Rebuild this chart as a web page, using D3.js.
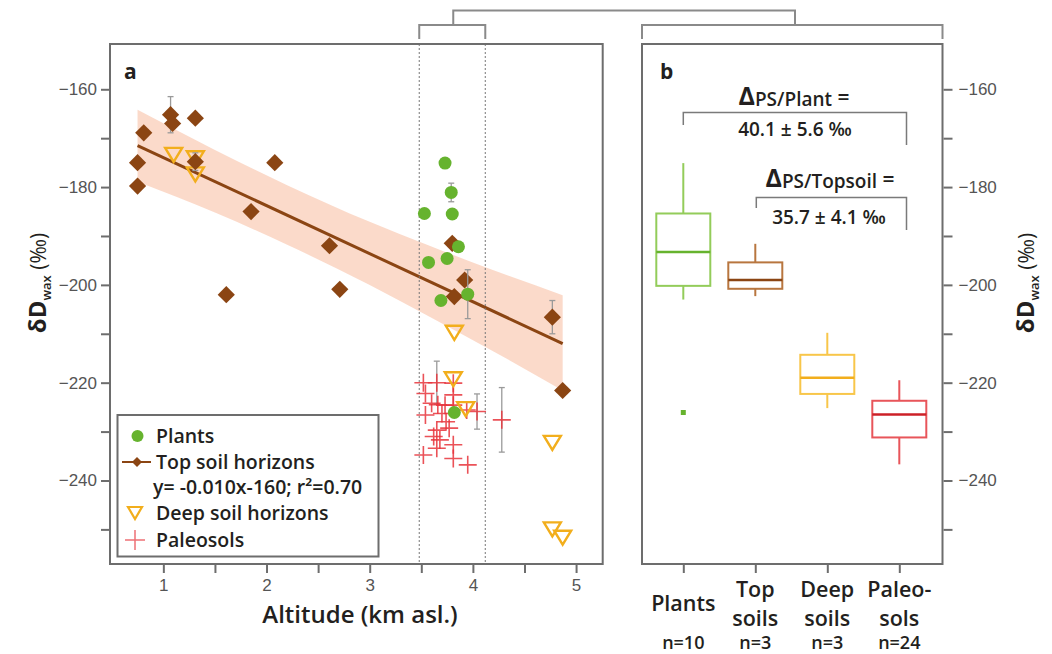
<!DOCTYPE html>
<html>
<head>
<meta charset="utf-8">
<script src="https://cdn.jsdelivr.net/npm/d3@7"></script>
<style>
  body { margin: 0; background: #fff; }
  text { font-family: "Open Sans", sans-serif; }
</style>
</head>
<body>
<div id="chart"></div>
<script>
// data
// panel a : altitude (km) , dD (permil)
let plants = [[3.73,-175.1],[3.79,-181.1],[3.53,-185.4],[3.80,-185.5],[3.86,-192.2],
              [3.57,-195.4],[3.75,-194.6],[3.95,-201.9],[3.69,-203.2],[3.82,-226.1]]
let plantErr = [0,1.9,0,0,0,0,0,5,0,0]

let topsoils = [[1.07,-165.2],[1.09,-167.0],[1.31,-165.9],[0.81,-168.9],[0.75,-175.0],[0.75,-179.8],
                [2.08,-175.0],[1.85,-185.0],[2.61,-192.0],[1.31,-174.8],[1.61,-202.0],[2.71,-200.9],
                [3.80,-191.5],[3.92,-199.0],[3.82,-202.4],[4.77,-206.6],[4.87,-221.6]]
let topsoilErr = [3.7,0,0,0,0,0,0,0,0,1.8,0,0,0,0,0,3.4,0]

let deepsoils = [[1.10,-173.2],[1.31,-173.9],[1.31,-177.2],[3.82,-209.6],[3.81,-219.1],
                 [3.93,-225.2],[4.77,-232.1],[4.77,-249.8],[4.87,-251.5]]

let paleosols = [[3.52,-220.0],[3.54,-222.2],[3.65,-220.0],[3.81,-220.1],[3.81,-222.5],[3.81,-224.6],
                 [3.73,-224.6],[3.54,-226.6],[3.70,-226.3],[4.04,-225.9],[3.94,-225.6],[3.74,-228.0],
                 [3.65,-229.7],[3.77,-229.3],[3.68,-231.7],[3.81,-232.7],[3.65,-233.4],[3.52,-234.8],
                 [3.81,-235.5],[3.95,-236.8],[4.28,-227.6],[3.60,-224.2],[3.62,-231.0],[3.66,-224.5]]
let paleoErr = [0,0,4.4,0,0,0,0,0,0,3.6,0,0,0,0,0,0,0,0,0,0,6.6,0,0,0]

// regression + confidence band
let fitX = [0.75, 4.87]
let fitY = [-171.5, -212.0]
let bandX = [0.75, 1.5, 2.2, 3.0, 3.58, 4.2, 4.87]
let bandLow = [-178.9, -185.2, -191.8, -200.0, -206.5, -213.6, -221.6]
let bandHigh = [-164.2, -172.4, -179.6, -187.1, -192.0, -197.0, -202.1]

// panel b : box plots
let groups = [["Plants"], ["Top", "soils"], ["Deep", "soils"], ["Paleo-", "sols"]]
let groupN = ["n=10", "n=3", "n=3", "n=24"]
let boxLow = [-203.0, -202.3, -225.2, -236.7]
let boxQ1 = [-200.2, -200.8, -222.3, -231.2]
let boxMed = [-193.3, -199.0, -219.0, -226.5]
let boxQ3 = [-185.4, -195.4, -214.3, -223.7]
let boxHigh = [-175.1, -191.6, -209.8, -219.5]
let boxOutliers = [[0, -226.1]]

// ticks
let altTicks = [1, 1.5, 2, 2.5, 3, 3.5, 4, 4.5, 5]
let dDTicks = [-160, -170, -180, -190, -200, -210, -220, -230, -240, -250]
let plateauLimits = [3.48, 4.12]

// colours
let cPlant = '#66b32e', cPlantBox = '#93cc5a'
let cTop = '#8b4513', cTopBox = '#b8763f'
let cDeep = '#f2ae1c', cDeepBox = '#f8c64a'
let cPaleo = '#e8343c', cPaleoBox = '#e8555a'
let boxStroke = [cPlantBox, cTopBox, cDeepBox, cPaleoBox]
let boxMedColor = [cPlant, cTop, cDeep, '#cc2027']
let frameColor = '#6d6d6d'
let tickText = '#555'

let svgWidth = 1052
let svgHeight = 654

let svg = d3.select('#chart')
    .append('svg')
    .attr('width', svgWidth)
    .attr('height', svgHeight)
    .style('background', '#fff')

// panel frames
let pa = {left: 110, right: 602.7, top: 44, bottom: 564}
let pb = {left: 642, right: 942.5, top: 44, bottom: 564}

// scales
let xScale = d3.scaleLinear().domain([0.483, 5.258]).range([pa.left, pa.right])
let yScale = d3.scaleLinear().domain([-150.74, -257.08]).range([pa.top, pa.bottom])
let catScale = d3.scalePoint().domain(d3.range(groups.length)).range([683.3, 899.3])

// ---------- panel a ----------
let gA = svg.append('g')

// confidence band
let band = bandX.map((x, i) => ({x: x, lo: bandLow[i], hi: bandHigh[i]}))
gA.append('path')
    .datum(band)
    .attr('d', d3.area()
        .x(d => xScale(d.x))
        .y0(d => yScale(d.lo))
        .y1(d => yScale(d.hi))
        .curve(d3.curveMonotoneX))
    .attr('fill', '#fbd6c4')
    .attr('opacity', 0.9)

// regression line
gA.append('path')
    .datum(fitX.map((x, i) => [x, fitY[i]]))
    .attr('d', d3.line().x(d => xScale(d[0])).y(d => yScale(d[1])))
    .attr('stroke', cTop)
    .attr('stroke-width', 3)
    .attr('fill', 'none')

// plateau dotted lines
gA.selectAll('.plateau')
    .data(plateauLimits)
    .join('line')
    .attr('x1', d => xScale(d)).attr('x2', d => xScale(d))
    .attr('y1', pa.top).attr('y2', pa.bottom)
    .attr('stroke', '#777')
    .attr('stroke-width', 1)
    .attr('stroke-dasharray', '2,2')

// grey error bars helper
function errBars(g, data, err) {
    let d2 = data.map((d, i) => ({x: d[0], y: d[1], e: err[i]})).filter(d => d.e > 0)
    let eg = g.append('g').attr('stroke', '#9a9a9a').attr('stroke-width', 1.3)
    eg.selectAll('line.v').data(d2).join('line')
        .attr('x1', d => xScale(d.x)).attr('x2', d => xScale(d.x))
        .attr('y1', d => yScale(d.y - d.e)).attr('y2', d => yScale(d.y + d.e))
    eg.selectAll('line.t').data(d2).join('line')
        .attr('x1', d => xScale(d.x) - 3).attr('x2', d => xScale(d.x) + 3)
        .attr('y1', d => yScale(d.y + d.e)).attr('y2', d => yScale(d.y + d.e))
    eg.selectAll('line.b').data(d2).join('line')
        .attr('x1', d => xScale(d.x) - 3).attr('x2', d => xScale(d.x) + 3)
        .attr('y1', d => yScale(d.y - d.e)).attr('y2', d => yScale(d.y - d.e))
}

// paleosols (crosses)
errBars(gA, paleosols, paleoErr)
let crossPath = 'M-9,0H9M0,-9V9'
gA.selectAll('.paleo')
    .data(paleosols)
    .join('path')
    .attr('transform', d => `translate(${xScale(d[0])},${yScale(d[1])})`)
    .attr('d', crossPath)
    .attr('stroke', cPaleo)
    .attr('stroke-width', 1.6)
    .attr('opacity', 0.85)

// deep soils (open triangles)
let triPath = 'M-8.5,-6L8.5,-6L0,8Z'
gA.selectAll('.deep')
    .data(deepsoils)
    .join('path')
    .attr('transform', d => `translate(${xScale(d[0])},${yScale(d[1])})`)
    .attr('d', triPath)
    .attr('fill', 'none')
    .attr('stroke', cDeep)
    .attr('stroke-width', 2.4)

// top soils (diamonds)
errBars(gA, topsoils, topsoilErr)
let diamond = d3.symbol().type(d3.symbolSquare).size(148)
gA.selectAll('.top')
    .data(topsoils)
    .join('path')
    .attr('transform', d => `translate(${xScale(d[0])},${yScale(d[1])}) rotate(45)`)
    .attr('d', diamond)
    .attr('fill', cTop)

// plants (circles)
errBars(gA, plants, plantErr)
gA.selectAll('.plant')
    .data(plants)
    .join('circle')
    .attr('cx', d => xScale(d[0]))
    .attr('cy', d => yScale(d[1]))
    .attr('r', 6.5)
    .attr('fill', cPlant)

// frame a
gA.append('rect')
    .attr('x', pa.left).attr('y', pa.top)
    .attr('width', pa.right - pa.left).attr('height', pa.bottom - pa.top)
    .attr('fill', 'none').attr('stroke', frameColor).attr('stroke-width', 2)

// axes
let fmt = d => (Math.round(d) % 20 === 0 ? d3.format('d')(d) : '')
let yAxis = d3.axisLeft(yScale).tickValues(dDTicks).tickSize(8).tickPadding(4).tickFormat(fmt)
let xAxis = d3.axisBottom(xScale).tickValues(altTicks).tickSize(8).tickPadding(6)
    .tickFormat(d => (d % 1 === 0 ? d : ''))

function styleAxis(g) {
    g.select('.domain').remove()
    g.selectAll('line').attr('stroke', frameColor).attr('stroke-width', 2)
    g.selectAll('text').attr('fill', tickText)
        .style('font-family', '"Liberation Sans", Arial, sans-serif').style('font-size', '17px')
}

svg.append('g').attr('transform', `translate(${pa.left - 1},0)`).call(yAxis).call(styleAxis)
svg.append('g').attr('transform', `translate(0,${pa.bottom + 1})`).call(xAxis).call(styleAxis)

svg.append('text')
    .attr('x', 360).attr('y', 623)
    .attr('text-anchor', 'middle')
    .attr('fill', '#231f20')
    .style('font-size', '24px').style('font-weight', 600)
    .text('Altitude (km asl.)')

// y titles
function yTitle(x) {
    let t = svg.append('text')
        .attr('transform', `translate(${x},283) rotate(-90)`)
        .attr('text-anchor', 'middle')
        .attr('fill', '#231f20')
    t.append('tspan').text('δD').style('font-size', '24px').style('font-weight', 700)
    t.append('tspan').text('wax').style('font-size', '13px').style('font-weight', 600).attr('dy', 5)
    t.append('tspan').text(' (‰)').style('font-size', '21px').style('font-weight', 500).attr('dy', -5)
}
yTitle(46)
yTitle(1034)

svg.append('text').attr('x', 124).attr('y', 79)
    .style('font-size', '21px').style('font-weight', 700).attr('fill', '#231f20').text('a')

// legend
let lg = svg.append('g')
lg.append('rect')
    .attr('x', 117.5).attr('y', 415).attr('width', 261).attr('height', 141.5)
    .attr('fill', '#fff').attr('stroke', frameColor).attr('stroke-width', 2)
let legendRows = [
    {label: 'Plants', y: 436},
    {label: 'Top soil horizons', y: 462},
    {label: 'y= -0.010x-160; r²=0.70', y: 487, indent: true},
    {label: 'Deep soil horizons', y: 513},
    {label: 'Paleosols', y: 540}
]
lg.selectAll('text')
    .data(legendRows)
    .join('text')
    .attr('x', d => (d.indent ? 153 : 156))
    .attr('y', d => d.y)
    .attr('dy', '0.35em')
    .attr('fill', '#231f20')
    .style('font-size', '19.5px').style('font-weight', 600)
    .text(d => d.label)
lg.append('circle').attr('cx', 137.5).attr('cy', 436).attr('r', 6).attr('fill', cPlant)
lg.append('line').attr('x1', 122).attr('x2', 151).attr('y1', 462).attr('y2', 462)
    .attr('stroke', cTop).attr('stroke-width', 2)
lg.append('path').attr('transform', 'translate(137,462) rotate(45)')
    .attr('d', d3.symbol().type(d3.symbolSquare).size(50)).attr('fill', cTop)
lg.append('path').attr('transform', 'translate(135,512)').attr('d', 'M-7,-5L7,-5L0,7Z')
    .attr('fill', 'none').attr('stroke', cDeep).attr('stroke-width', 2.2)
lg.append('path').attr('transform', 'translate(135,540)').attr('d', 'M-10,0H10M0,-10V10')
    .attr('stroke', cPaleo).attr('stroke-width', 1.5).attr('opacity', 0.7)

// ---------- panel b ----------
let gB = svg.append('g')
let boxW = 54
let boxes = groups.map((g, i) => ({i: i, lo: boxLow[i], q1: boxQ1[i], med: boxMed[i], q3: boxQ3[i], hi: boxHigh[i]}))

let bx = gB.selectAll('.box').data(boxes).join('g')
bx.append('line')
    .attr('x1', d => catScale(d.i)).attr('x2', d => catScale(d.i))
    .attr('y1', d => yScale(d.hi)).attr('y2', d => yScale(d.q3))
    .attr('stroke', d => boxStroke[d.i]).attr('stroke-width', 2)
bx.append('line')
    .attr('x1', d => catScale(d.i)).attr('x2', d => catScale(d.i))
    .attr('y1', d => yScale(d.q1)).attr('y2', d => yScale(d.lo))
    .attr('stroke', d => boxStroke[d.i]).attr('stroke-width', 2)
bx.append('rect')
    .attr('x', d => catScale(d.i) - boxW / 2).attr('width', boxW)
    .attr('y', d => yScale(d.q3)).attr('height', d => yScale(d.q1) - yScale(d.q3))
    .attr('fill', 'none').attr('stroke', d => boxStroke[d.i]).attr('stroke-width', 2)
bx.append('line')
    .attr('x1', d => catScale(d.i) - boxW / 2).attr('x2', d => catScale(d.i) + boxW / 2)
    .attr('y1', d => yScale(d.med)).attr('y2', d => yScale(d.med))
    .attr('stroke', d => boxMedColor[d.i]).attr('stroke-width', 2.5)

gB.selectAll('.outlier').data(boxOutliers).join('rect')
    .attr('x', d => catScale(d[0]) - 2.5).attr('y', d => yScale(d[1]) - 2.5)
    .attr('width', 5).attr('height', 5).attr('fill', cPlant)

gB.append('rect')
    .attr('x', pb.left).attr('y', pb.top)
    .attr('width', pb.right - pb.left).attr('height', pb.bottom - pb.top)
    .attr('fill', 'none').attr('stroke', frameColor).attr('stroke-width', 2)

let yAxisR = d3.axisRight(yScale).tickValues(dDTicks).tickSize(9).tickPadding(6).tickFormat(fmt)
svg.append('g').attr('transform', `translate(${pb.right + 1},0)`).call(yAxisR).call(styleAxis)

let catAxis = d3.axisBottom(catScale).tickSize(8).tickFormat('')
svg.append('g').attr('transform', `translate(0,${pb.bottom + 1})`).call(catAxis).call(styleAxis)

// category labels
let cl = svg.append('g').attr('fill', '#231f20').attr('text-anchor', 'middle')
groups.forEach((lines, i) => {
    let y0 = lines.length === 1 ? 611 : 597
    lines.forEach((s, j) => {
        cl.append('text').attr('x', catScale(i)).attr('y', y0 + j * 29)
            .style('font-size', '21.5px').style('font-weight', 600).text(s)
    })
    cl.append('text').attr('x', catScale(i)).attr('y', 649)
        .style('font-size', '18px').style('font-weight', 600).text(groupN[i])
})

svg.append('text').attr('x', 660).attr('y', 79)
    .style('font-size', '21px').style('font-weight', 700).attr('fill', '#231f20').text('b')

// delta annotations
function deltaLabel(cx, y, sub) {
    let t = svg.append('text').attr('x', cx).attr('y', y).attr('text-anchor', 'middle').attr('fill', '#231f20')
    t.append('tspan').text('Δ').style('font-size', '25px').style('font-weight', 700)
    t.append('tspan').text(sub).style('font-size', '19px').style('font-weight', 600).attr('dy', 1)
    t.append('tspan').text(' =').style('font-size', '21px').style('font-weight', 600).attr('dy', -1)
}
function bracket(x1, x2, y, y1, y2) {
    svg.append('path')
        .attr('d', `M${x1},${y1}V${y}H${x2}V${y2}`)
        .attr('fill', 'none').attr('stroke', '#7a7a7a').attr('stroke-width', 1.5)
}
deltaLabel(794, 105, 'PS/Plant')
bracket(catScale(0), 906.5, 112.5, 125, 145)
svg.append('text').attr('x', 795).attr('y', 136).attr('text-anchor', 'middle')
    .attr('fill', '#231f20').style('font-size', '19px').style('font-weight', 600).text('40.1 ± 5.6 ‰')

deltaLabel(830, 187, 'PS/Topsoil')
bracket(catScale(1) + 1, 906.5, 197.5, 208, 230)
svg.append('text').attr('x', 829).attr('y', 224).attr('text-anchor', 'middle')
    .attr('fill', '#231f20').style('font-size', '19px').style('font-weight', 600).text('35.7 ± 4.1 ‰')

// brackets linking the plateau band to panel b
let linkColor = '#8a8a8a'
svg.append('path')
    .attr('d', `M${xScale(plateauLimits[0])},39V25H${xScale(plateauLimits[1])}V39`)
    .attr('fill', 'none').attr('stroke', linkColor).attr('stroke-width', 2)
svg.append('path')
    .attr('d', `M${pb.left},39V25H${pb.right}V39`)
    .attr('fill', 'none').attr('stroke', linkColor).attr('stroke-width', 2)
svg.append('path')
    .attr('d', `M${(xScale(plateauLimits[0]) + xScale(plateauLimits[1])) / 2 + 1},25V10.5H795V25`)
    .attr('fill', 'none').attr('stroke', linkColor).attr('stroke-width', 2)
</script>
</body>
</html>
